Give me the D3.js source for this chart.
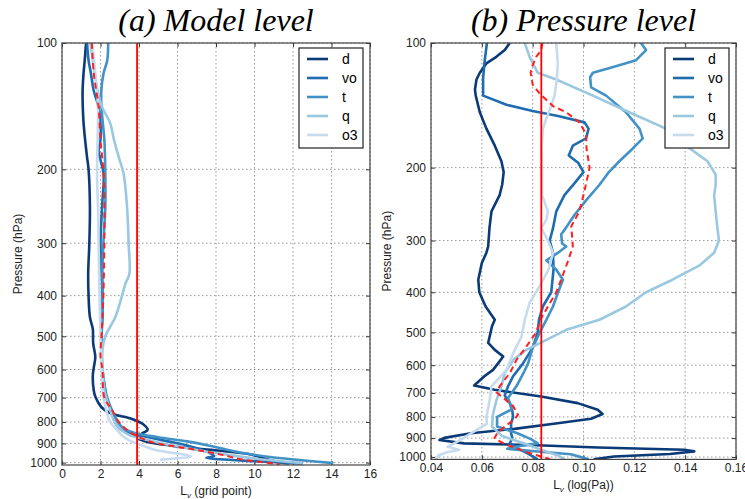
<!DOCTYPE html>
<html>
<head>
<meta charset="utf-8">
<script src="https://cdn.jsdelivr.net/npm/d3@7"></script>
<style>
body { margin: 0; background: #fff; }
text { font-family: "Liberation Sans", Arial, sans-serif; }
</style>
</head>
<body>
<div id="chart"></div>
<script>
// series names + tick labels
var names = ["d", "vo", "t", "q", "o3"];
var presTicks = [100, 200, 300, 400, 500, 600, 700, 800, 900, 1000];
var mlTicks = [0, 2, 4, 6, 8, 10, 12, 14, 16];
var plTicks = [0.04, 0.06, 0.08, 0.10, 0.12, 0.14, 0.16];

// (a) model level: [pressure hPa, L_v in grid points]
var mlD = [[100,1.25],[110,1.18],[118,1.12],[130,1.07],[142,1.08],[155,1.12],[170,1.2],[187,1.3],[200,1.38],[246,1.45],[300,1.42],[355,1.36],[400,1.38],[450,1.45],[480,1.6],[520,1.62],[560,1.73],[594,1.65],[620,1.6],[673,1.65],[700,1.75],[737,2.04],[765,2.6],[786,3.6],[809,4.2],[835,4.45],[853,4.15],[872,3.9],[890,4.3],[905,5.2],[919,6.2],[936,8.1],[953,9.6],[967,10.2],[980,10.6],[992,11.0],[1005,11.8]];
var mlVo = [[100,1.3],[110,1.38],[118,1.5],[130,1.65],[142,1.9],[155,2.0],[170,2.0],[180,1.9],[190,2.0],[205,2.16],[246,2.08],[300,2.0],[350,2.05],[400,2.1],[450,2.1],[500,2.05],[560,2.05],[600,2.1],[650,2.2],[700,2.3],[750,2.55],[800,2.75],[830,3.0],[850,3.5],[870,4.5],[890,5.5],[910,6.5],[930,7.2],[950,7.7],[965,7.9],[975,7.5],[982,8.2],[992,10.0],[1005,12.5]];
var mlT = [[100,2.4],[110,2.35],[118,2.16],[130,2.04],[142,2.05],[155,2.12],[170,2.2],[205,2.25],[246,2.25],[300,2.15],[350,2.1],[400,2.12],[450,2.1],[500,2.05],[550,2.05],[600,2.1],[650,2.2],[700,2.35],[750,2.6],[800,2.9],[830,3.2],[850,3.8],[870,5.0],[890,6.5],[910,7.6],[930,8.5],[950,9.5],[970,10.8],[985,12.2],[1003,14.1]];
var mlQ = [[100,1.47],[118,1.7],[130,1.85],[142,2.08],[155,2.5],[170,2.7],[187,2.95],[205,3.2],[246,3.38],[300,3.46],[355,3.5],[374,3.3],[400,3.12],[450,2.77],[500,2.25],[540,2.1],[600,2.12],[673,2.2],[737,2.45],[794,2.7],[830,3.0],[860,3.5],[880,4.3],[900,5.2],[920,6.3],[940,7.4],[960,8.7],[980,10.2],[1003,12.5]];
var mlO3 = [[100,1.56],[118,1.73],[142,1.87],[170,1.85],[205,1.82],[246,1.87],[300,1.9],[400,1.95],[500,2.0],[600,2.05],[700,2.15],[750,2.3],[800,2.5],[840,2.9],[860,3.1],[880,3.4],[905,4.0],[925,4.6],[940,5.2],[958,6.4],[968,6.7],[978,5.8],[985,5.1]];
var mlMean = [[100,1.55],[118,1.65],[142,1.9],[170,2.0],[205,2.16],[246,2.2],[300,2.2],[350,2.18],[400,2.15],[450,2.1],[500,2.05],[560,2.0],[600,2.1],[700,2.2],[750,2.6],[800,2.95],[830,3.3],[850,3.6],[870,4.0],[895,4.7],[920,6.2],[940,7.4],[960,8.4],[980,9.2],[995,10.2],[1010,11.3]];
var mlAll = 3.9;

// (b) pressure level: [pressure hPa, L_v in log(Pa)]
var plD = [[100,0.071],[104,0.069],[108,0.0657],[112,0.0618],[118,0.0592],[122.5,0.0579],[129.5,0.0573],[134,0.0576],[147,0.0592],[161,0.0618],[177,0.0651],[193,0.0677],[205,0.0686],[220,0.068],[233,0.067],[255,0.0638],[280,0.063],[310,0.0625],[321,0.0618],[340,0.060],[373,0.0586],[400,0.059],[433,0.0615],[466,0.0651],[483,0.064],[530,0.0625],[551,0.0651],[572,0.0684],[594,0.0664],[616,0.0644],[638,0.061],[672,0.057],[688,0.065],[714,0.0833],[741,0.0977],[769,0.1056],[787,0.1075],[808,0.103],[829,0.0898],[855,0.0728],[876,0.0557],[899,0.0452],[910,0.0433],[927,0.053],[935,0.079],[948,0.1056],[960,0.1397],[969,0.1436],[983,0.134],[997,0.112],[1013,0.104]];
var plVo = [[100,0.062],[112,0.061],[122,0.0605],[134,0.0605],[141,0.0697],[146,0.080],[150,0.090],[155.5,0.1004],[161,0.102],[170,0.101],[177,0.0958],[187,0.0942],[195,0.098],[205,0.100],[218,0.0965],[233,0.0925],[255,0.0893],[280,0.088],[300,0.0867],[321,0.088],[353,0.0882],[400,0.0873],[433,0.084],[466,0.0825],[500,0.082],[545,0.080],[594,0.0762],[638,0.0723],[675,0.0703],[710,0.069],[741,0.071],[775,0.072],[800,0.0723],[830,0.0715],[876,0.0715],[900,0.072],[927,0.071],[945,0.0735],[960,0.075],[980,0.078],[1013,0.082]];
var plT = [[100,0.1226],[104,0.1246],[110,0.1207],[115,0.110],[118,0.1037],[121,0.1026],[128,0.103],[134,0.1089],[147,0.1167],[161,0.122],[170,0.1233],[180,0.1193],[193,0.1141],[205,0.110],[220,0.1063],[240,0.101],[260,0.0965],[280,0.093],[290,0.0912],[305,0.0916],[310,0.0932],[321,0.090],[335,0.0854],[353,0.0893],[373,0.0919],[400,0.090],[433,0.088],[466,0.0854],[500,0.0828],[545,0.080],[594,0.0782],[630,0.0762],[675,0.0736],[720,0.0703],[766,0.072],[800,0.066],[844,0.066],[876,0.074],[905,0.0793],[927,0.082],[940,0.075],[955,0.070],[970,0.082],[985,0.095],[1013,0.102]];
var plQ = [[100,0.0769],[108,0.0788],[118,0.082],[122.5,0.0893],[134,0.1037],[147,0.118],[161,0.1324],[177,0.1403],[193,0.1488],[208,0.152],[220,0.152],[233,0.1514],[255,0.152],[280,0.1527],[300,0.1533],[321,0.1514],[345,0.1455],[373,0.135],[400,0.1246],[433,0.1167],[466,0.1063],[493,0.0932],[521,0.0854],[551,0.0775],[583,0.0723],[627,0.069],[675,0.0677],[727,0.0658],[788,0.0644],[844,0.064],[890,0.068],[927,0.0767],[960,0.0833],[990,0.0898],[1013,0.0925]];
var plO3 = [[100,0.0893],[112,0.0899],[122.5,0.0895],[134,0.0886],[142,0.0873],[152,0.0854],[161,0.084],[177,0.0836],[200,0.0837],[233,0.0837],[255,0.086],[267,0.0854],[280,0.0834],[300,0.086],[321,0.088],[353,0.0862],[387,0.0827],[424,0.0788],[466,0.0769],[512,0.0756],[562,0.0723],[616,0.0697],[675,0.0638],[727,0.0631],[800,0.0618],[830,0.062],[860,0.058],[890,0.054],[920,0.050],[945,0.0465],[960,0.051],[975,0.046],[990,0.043],[1013,0.042]];
var plMean = [[100,0.0838],[104,0.0834],[108,0.0814],[115,0.0795],[118,0.0792],[126,0.080],[132,0.0825],[142,0.088],[147,0.0932],[155.5,0.0984],[166,0.101],[180,0.1012],[200,0.1024],[212,0.1015],[233,0.100],[255,0.0984],[277,0.0952],[310,0.0958],[335,0.094],[373,0.0912],[400,0.0893],[433,0.086],[466,0.083],[500,0.0814],[541,0.0775],[583,0.0736],[627,0.071],[675,0.067],[700,0.066],[753,0.0723],[790,0.0742],[810,0.073],[844,0.069],[876,0.066],[900,0.065],[910,0.066],[935,0.070],[950,0.0728],[975,0.078],[997,0.0833],[1013,0.087]];
var plAll = 0.0834;

var colors = ["#0b3a78", "#1f6cb0", "#4292c6", "#9ac8e0", "#c6dbef"];

var svg = d3.select("#chart").append("svg")
    .attr("width", 745)
    .attr("height", 499);

function drawPanel(p) {
    var x = d3.scaleLinear().domain(p.xDomain).range([p.left, p.right]);
    var y = d3.scaleLog().domain([100, 1013.25]).range([43, p.bottom]);
    var g = svg.append("g");

    // grid
    g.selectAll(".gx").data(p.xTicks).enter().append("line")
        .attr("x1", function(d) { return x(d); }).attr("x2", function(d) { return x(d); })
        .attr("y1", 43).attr("y2", p.bottom)
        .attr("stroke", "#999").attr("stroke-dasharray", "1.5,2.5");
    g.selectAll(".gy").data(presTicks).enter().append("line")
        .attr("x1", p.left).attr("x2", p.right)
        .attr("y1", function(d) { return y(d); }).attr("y2", function(d) { return y(d); })
        .attr("stroke", "#999").attr("stroke-dasharray", "1.5,2.5");

    // axes, ticks pointing inward like matplotlib classic
    var axB = g.append("g").attr("transform", "translate(0," + p.bottom + ")")
        .call(d3.axisBottom(x).tickValues(p.xTicks).tickFormat(p.fmt).tickSizeInner(-4).tickSizeOuter(0).tickPadding(4));
    var axT = g.append("g").attr("transform", "translate(0,43)")
        .call(d3.axisTop(x).tickValues(p.xTicks).tickFormat("").tickSizeInner(-4).tickSizeOuter(0));
    var axL = g.append("g").attr("transform", "translate(" + p.left + ",0)")
        .call(d3.axisLeft(y).tickValues(presTicks).tickFormat(d3.format("d")).tickSizeInner(-4).tickSizeOuter(0).tickPadding(5));
    var axR = g.append("g").attr("transform", "translate(" + p.right + ",0)")
        .call(d3.axisRight(y).tickValues(presTicks).tickFormat("").tickSizeInner(-4).tickSizeOuter(0));
    [axB, axT, axL, axR].forEach(function(a) {
        a.select(".domain").remove();
        a.selectAll("line").attr("stroke", "#333");
        a.selectAll("text").attr("fill", "#222").style("font-size", "12px")
            .style("font-family", "'Liberation Sans', Arial, sans-serif");
    });

    // clip
    var cid = "clip" + p.id;
    svg.append("clipPath").attr("id", cid).append("rect")
        .attr("x", p.left).attr("y", 43).attr("width", p.right - p.left).attr("height", p.bottom - 43);
    var plot = g.append("g").attr("clip-path", "url(#" + cid + ")");

    var line = d3.line()
        .x(function(d) { return x(d[1]); })
        .y(function(d) { return y(d[0]); })
        .curve(p.curve);

    p.series.forEach(function(s, i) {
        plot.append("path").datum(s)
            .attr("d", line)
            .attr("fill", "none")
            .attr("stroke", colors[i])
            .attr("stroke-width", 2.6)
            .attr("stroke-linejoin", "round");
    });
    plot.append("path").datum(p.mean)
        .attr("d", line)
        .attr("fill", "none")
        .attr("stroke", "#ff2020")
        .attr("stroke-width", 2)
        .attr("stroke-dasharray", "6,4");
    plot.append("line")
        .attr("x1", x(p.all)).attr("x2", x(p.all))
        .attr("y1", 43).attr("y2", p.bottom)
        .attr("stroke", "#ff0000").attr("stroke-width", 1.8);

    // frame
    g.append("rect")
        .attr("x", p.left).attr("y", 43)
        .attr("width", p.right - p.left).attr("height", p.bottom - 43)
        .attr("fill", "none").attr("stroke", "#444").attr("stroke-width", 1.2);

    // title
    svg.append("text")
        .attr("x", (p.left + p.right) / 2).attr("y", 31)
        .attr("text-anchor", "middle")
        .style("font-family", "'Liberation Serif', 'Times New Roman', serif")
        .style("font-style", "italic")
        .style("font-size", "32px")
        .attr("fill", "#000")
        .text(p.title);

    // y label
    svg.append("text")
        .attr("transform", "translate(" + p.ylabX + "," + ((43 + p.bottom) / 2) + ") rotate(-90)")
        .attr("text-anchor", "middle")
        .style("font-size", "12px")
        .attr("fill", "#222")
        .text("Pressure (hPa)");

    // x label with subscript
    var xl = svg.append("text")
        .attr("x", (p.left + p.right) / 2).attr("y", p.bottom + 30)
        .attr("text-anchor", "middle")
        .style("font-size", "12px")
        .attr("fill", "#222");
    xl.append("tspan").text("L");
    xl.append("tspan").attr("dy", 3).style("font-size", "8px").style("font-style", "italic").text("v");
    xl.append("tspan").attr("dy", -3).text(" " + p.xlab);

    // legend
    var lx = p.right - 71, ly = 48;
    var lg = svg.append("g");
    lg.append("rect")
        .attr("x", lx).attr("y", ly).attr("width", 64).attr("height", 100)
        .attr("fill", "#fff").attr("stroke", "#222").attr("stroke-width", 1.2);
    names.forEach(function(n, i) {
        var yy = ly + 11 + i * 19;
        lg.append("line")
            .attr("x1", lx + 8).attr("x2", lx + 29)
            .attr("y1", yy).attr("y2", yy)
            .attr("stroke", colors[i]).attr("stroke-width", 2.6);
        lg.append("text")
            .attr("x", lx + 43).attr("y", yy + 5)
            .style("font-size", "14px")
            .attr("fill", "#000")
            .text(n);
    });
}

drawPanel({
    id: "a", left: 62, right: 370, bottom: 465,
    xDomain: [0, 16], xTicks: mlTicks, fmt: d3.format("d"),
    series: [mlD, mlVo, mlT, mlQ, mlO3], mean: mlMean, all: mlAll,
    curve: d3.curveCatmullRom.alpha(0.5),
    title: "(a) Model level", xlab: "(grid point)", ylabX: 22
});
drawPanel({
    id: "b", left: 431, right: 736, bottom: 459.4,
    xDomain: [0.04, 0.16], xTicks: plTicks, fmt: d3.format(".2f"),
    series: [plD, plVo, plT, plQ, plO3], mean: plMean, all: plAll,
    curve: d3.curveLinear,
    title: "(b) Pressure level", xlab: "(log(Pa))", ylabX: 391
});
</script>
</body>
</html>
